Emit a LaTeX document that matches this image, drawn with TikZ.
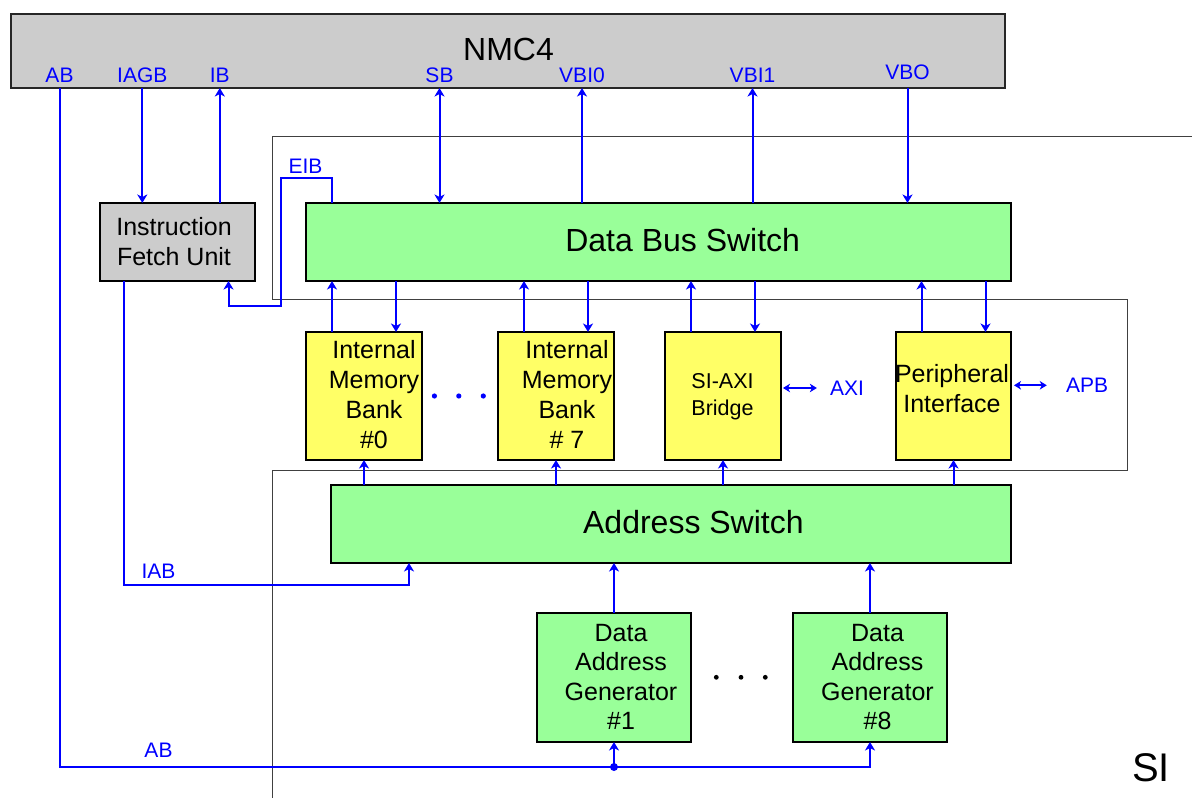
\documentclass[tikz,border=0pt]{standalone}
\usepackage{fontspec}
\setmainfont{Liberation Sans}
\usetikzlibrary{arrows.meta}
\definecolor{nmcgray}{HTML}{CCCCCC}
\definecolor{swgreen}{HTML}{99FF99}
\definecolor{bankyellow}{HTML}{FFFF66}
\definecolor{busblue}{HTML}{0000FF}
\begin{document}
\begin{tikzpicture}[x=1pt,y=-1pt,
  blk/.style={draw=black,line width=2.2pt,inner sep=0pt,outer sep=0pt,anchor=north west},
  bus/.style={draw=busblue,line width=2pt},
  onearrow/.style={-{Stealth[length=8.5pt,width=10pt,inset=2.5pt]}},
  twoarrow/.style={{Stealth[length=8.5pt,width=10pt,inset=2.5pt]}-{Stealth[length=8.5pt,width=10pt,inset=2.5pt]}},
  smallarrows/.style={{Stealth[length=7pt,width=8.5pt,inset=2pt]}-{Stealth[length=7pt,width=8.5pt,inset=2pt]}},
  lbl/.style={text=busblue,font=\fontsize{21}{25}\selectfont,inner sep=0pt},
  txtbig/.style={font=\fontsize{32}{38}\selectfont,inner sep=0pt},
  txtmid/.style={font=\fontsize{25}{30}\selectfont,align=center,inner sep=0pt},
]
\useasboundingbox (0,0) rectangle (1192,798);

% thin outline
\draw[line width=1pt,black!75] (1192,136) -- (272.5,136) -- (272.5,299) -- (1127,299) -- (1127,470) -- (272.5,470) -- (272.5,798);

% boxes
\node[blk,fill=nmcgray,draw=black!85,minimum width=994pt,minimum height=74pt] (nmc) at (11,14) {};
\node[txtbig] (nmct) at (508.5,49.5) {NMC4};

\node[blk,fill=nmcgray,minimum width=155pt,minimum height=78pt] (ifu) at (100,203) {};
\node[txtmid] (ifut) at (174,241.7) {Instruction\\Fetch Unit};

\node[blk,fill=swgreen,minimum width=705pt,minimum height=78pt] (dbs) at (306,203) {};
\node[txtbig] (dbst) at (682.7,240.5) {Data Bus Switch};

\node[blk,fill=bankyellow,minimum width=116pt,minimum height=128pt] (imb0) at (306,332) {};
\node[txtmid] (imb0t) at (374,394.7) {Internal\\Memory\\Bank\\\#0};
\node[blk,fill=bankyellow,minimum width=116pt,minimum height=128pt] (imb7) at (498,332) {};
\node[txtmid] (imb7t) at (567,394.7) {Internal\\Memory\\Bank\\\# 7};
\node[blk,fill=bankyellow,minimum width=116pt,minimum height=128pt] (siaxi) at (665,332) {};
\node[txtmid,font=\fontsize{21.5}{26.5}\selectfont] (siaxit) at (722.5,396.5) {SI-AXI\\Bridge};
\node[blk,fill=bankyellow,minimum width=115pt,minimum height=128pt] (peri) at (896,332) {};
\node[txtmid] (perit) at (952,389) {Peripheral\\Interface};

\node[blk,fill=swgreen,minimum width=680pt,minimum height=78pt] (as) at (331,485) {};
\node[txtbig] (ast) at (693.4,522) {Address Switch};

\node[blk,fill=swgreen,minimum width=154pt,minimum height=129pt] (dag1) at (537,613) {};
\node[txtmid,font=\fontsize{25}{29.5}\selectfont] (dag1t) at (621,677) {Data\\Address\\Generator\\\#1};
\node[blk,fill=swgreen,minimum width=154pt,minimum height=129pt] (dag8) at (793,613) {};
\node[txtmid,font=\fontsize{25}{29.5}\selectfont] (dag8t) at (877.5,677) {Data\\Address\\Generator\\\#8};

% labels
\node[lbl] (abl) at (59.5,75) {AB};
\node[lbl] (iagbl) at (142.3,75) {IAGB};
\node[lbl] (ibl) at (219.8,75) {IB};
\node[lbl] (sbl) at (439.5,75) {SB};
\node[lbl] (vbi0l) at (582,75) {VBI0};
\node[lbl] (vbi1l) at (752.5,75) {VBI1};
\node[lbl] (vbol) at (907.5,72) {VBO};
\node[lbl] (eibl) at (305.5,166.5) {EIB};
\node[lbl] (axil) at (847,388) {AXI};
\node[lbl] (apbl) at (1087,385.3) {APB};
\node[lbl] (iabl) at (158.5,571.7) {IAB};
\node[lbl] (abbl) at (158.5,750.5) {AB};
\node[font=\fontsize{40}{48}\selectfont,inner sep=0pt] (sil) at (1151,767.7) {SI};

% NMC4 buses
\draw[bus,onearrow] (iagbl |- nmc.south) -- (iagbl |- ifu.north);
\draw[bus,onearrow] (ibl |- ifu.north) -- (ibl |- nmc.south);
\draw[bus,twoarrow] (sbl |- nmc.south) -- (sbl |- dbs.north);
\draw[bus,onearrow] (vbi0l |- dbs.north) -- (vbi0l |- nmc.south);
\draw[bus,onearrow] (vbi1l |- dbs.north) -- (vbi1l |- nmc.south);
\draw[bus,onearrow] (vbol |- nmc.south) -- (vbol |- dbs.north);

% EIB
\draw[bus,onearrow] ([xshift=26pt]dbs.north west) |- (280.5,178) -- (280.5,305.7) -| ([xshift=51pt]ifu.south);

% banks
\foreach \b in {imb0,imb7,siaxi,peri}{
  \draw[bus,onearrow] ([xshift=-32pt]\b.north) -- ([xshift=-32pt]\b.north |- dbs.south);
  \draw[bus,onearrow] ([xshift=32pt]\b.north |- dbs.south) -- ([xshift=32pt]\b.north);
  \draw[bus,onearrow] (\b.south |- as.north) -- (\b.south);
}

% AXI / APB
\draw[bus,smallarrows] ([xshift=2pt]siaxi.east |- axil.west) -- ([xshift=-13pt]axil.west);
\draw[bus,smallarrows] ([xshift=3pt]peri.east |- apbl.west) -- ([xshift=-19pt]apbl.west);

% IAB
\draw[bus,onearrow] ([xshift=-54pt]ifu.south) -- ++(0,304) -| ([xshift=-262pt]as.south);

% DAGs
\draw[bus,onearrow] (dag1.north) -- (dag1.north |- as.south);
\draw[bus,onearrow] (dag8.north) -- (dag8.north |- as.south);

% AB
\coordinate (abj) at (614,767);
\draw[bus,onearrow] (abl |- nmc.south) |- (abj) -| (dag8.south);
\draw[bus,onearrow] (abj) -- (dag1.south);
\fill[busblue] (abj) circle (4pt);

% dots
\foreach \x in {434.4,458.8,483.3} \fill[busblue] (\x,396) circle (2.6pt);
\foreach \x in {716.3,741,765.3} \fill[black] (\x,677.3) circle (2.4pt);
\end{tikzpicture}
\end{document}
